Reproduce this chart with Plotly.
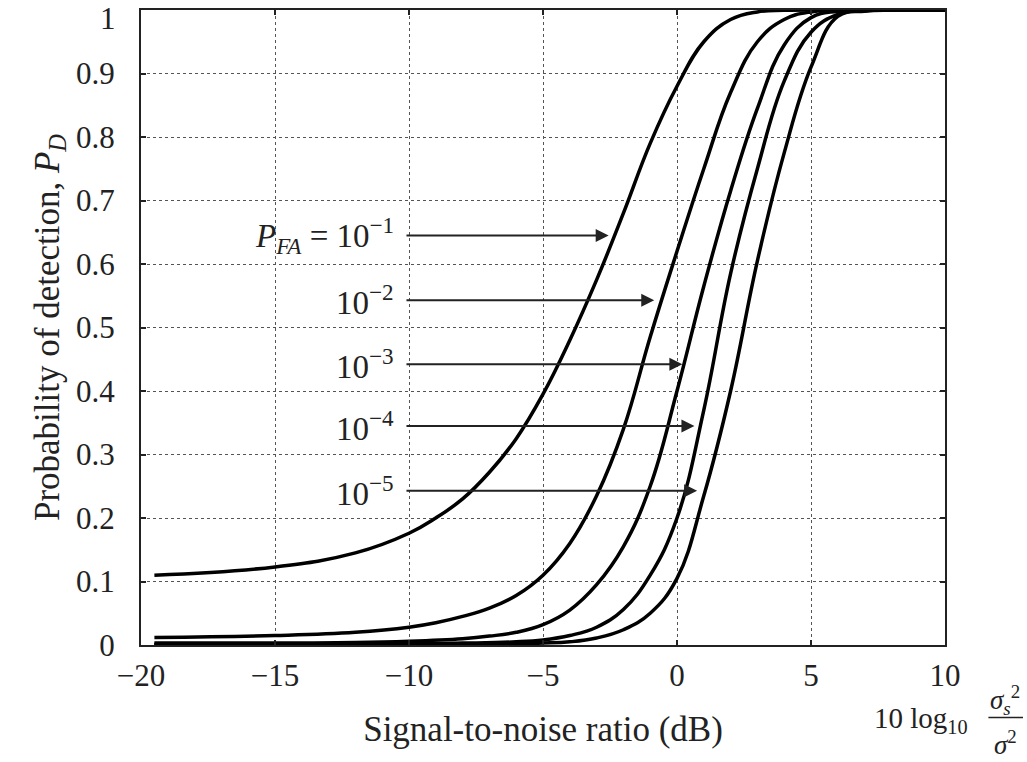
import plotly.graph_objects as go

# ---- data ----
pfa_labels = ["10<sup>−1</sup>", "10<sup>−2</sup>", "10<sup>−3</sup>", "10<sup>−4</sup>", "10<sup>−5</sup>"]

snr_1 = [-19.5, -15, -12, -10, -9, -8, -7, -6, -5, -4, -3, -2, -1, 0, 1, 2, 3, 4, 6, 10]
pd_1 = [0.110, 0.123, 0.145, 0.176, 0.200, 0.230, 0.272, 0.325, 0.395, 0.480, 0.575, 0.680, 0.790, 0.880, 0.950, 0.985, 0.997, 0.9995, 1.0, 1.0]

snr_2 = [-19.5, -15, -12, -10, -9, -8, -7, -6, -5, -4, -3, -2, -1, 0, 1, 2, 3, 4, 5, 7, 10]
pd_2 = [0.012, 0.015, 0.020, 0.028, 0.035, 0.045, 0.058, 0.078, 0.110, 0.160, 0.235, 0.340, 0.485, 0.620, 0.750, 0.870, 0.950, 0.985, 0.997, 1.0, 1.0]

snr_3 = [-19.5, -12, -10, -8, -7, -6, -5, -4, -3, -2, -1, 0, 1, 2, 3, 4, 5, 6, 8, 10]
pd_3 = [0.003, 0.004, 0.006, 0.010, 0.014, 0.020, 0.032, 0.055, 0.095, 0.155, 0.250, 0.400, 0.565, 0.715, 0.845, 0.945, 0.988, 0.998, 1.0, 1.0]

snr_4 = [-19.5, -10, -8, -6, -5, -4, -3, -2, -1, 0, 1, 2, 3, 4, 5, 6, 7, 10]
pd_4 = [0.001, 0.002, 0.003, 0.005, 0.008, 0.015, 0.028, 0.056, 0.110, 0.200, 0.370, 0.585, 0.750, 0.888, 0.965, 0.993, 0.999, 1.0]

snr_5 = [-19.5, -10, -6, -5, -4, -3, -2, -1, 0, 1, 2, 3, 4, 5, 6, 7, 8, 10]
pd_5 = [0.0005, 0.001, 0.002, 0.003, 0.005, 0.011, 0.024, 0.050, 0.105, 0.235, 0.400, 0.605, 0.775, 0.910, 0.990, 0.998, 1.0, 1.0]

arrow_y = [0.645, 0.543, 0.442, 0.345, 0.243]
arrow_start = [-10.15, -10.15, -10.15, -10.15, -10.15]
arrow_tip = [-2.55, -0.85, 0.2, 0.65, 0.75]

x_ticks = [-20, -15, -10, -5, 0, 5, 10]
x_ticktext = ["−20", "−15", "−10", "−5", "0", "5", "10"]
y_ticks = [0, 0.1, 0.2, 0.3, 0.4, 0.5, 0.6, 0.7, 0.8, 0.9, 1]
y_ticktext = ["0", "0.1", "0.2", "0.3", "0.4", "0.5", "0.6", "0.7", "0.8", "0.9", "1"]

FONT = "Liberation Serif"
INK = "#222"
fig = go.Figure()
for xs, ys in [(snr_1, pd_1), (snr_2, pd_2), (snr_3, pd_3), (snr_4, pd_4), (snr_5, pd_5)]:
    fig.add_trace(go.Scatter(x=xs, y=ys, mode="lines",
                             line=dict(color="black", width=3.5, shape="spline", smoothing=1.2),
                             showlegend=False, hoverinfo="skip"))

annotations = []
for i, (lab, yv, x0, x1) in enumerate(zip(pfa_labels, arrow_y, arrow_start, arrow_tip)):
    annotations.append(dict(x=x1, y=yv, ax=x0, ay=yv, xref="x", yref="y", axref="x", ayref="y",
                            text="", showarrow=True, arrowhead=2, arrowsize=1.3, arrowwidth=2,
                            arrowcolor=INK))
    txt = ("<i>P</i><sub><i>FA</i></sub> = " + lab) if i == 0 else lab
    annotations.append(dict(x=-10.5, y=yv, xref="x", yref="y", text=txt, showarrow=False,
                            xanchor="right", yanchor="middle", font=dict(family=FONT, size=33, color=INK)))

# top y tick label drawn slightly lower (as in the reference) so it is not cut at the edge
annotations.append(dict(x=-0.029, y=y_ticks[-1], xref="paper", yref="y", text=y_ticktext[-1],
                        showarrow=False, xanchor="right", yanchor="middle", yshift=-8,
                        font=dict(family=FONT, size=31, color=INK)))
y_ticktext_axis = y_ticktext[:-1] + [""]

# x-axis unit label: 10 log10 (sigma_s^2 / sigma^2)
annotations.append(dict(x=1.031, y=-0.118, xref="paper", yref="paper", text="10 log<sub>10</sub>",
                        showarrow=False, xanchor="right", yanchor="middle",
                        font=dict(family=FONT, size=29, color=INK)))
annotations.append(dict(x=1.075, y=-0.086, xref="paper", yref="paper", text="<i>σ</i><sub><i>s</i></sub><sup>2</sup>",
                        showarrow=False, xanchor="center", yanchor="middle",
                        font=dict(family=FONT, size=27, color=INK)))
annotations.append(dict(x=1.075, y=-0.155, xref="paper", yref="paper", text="<i>σ</i><sup>2</sup>",
                        showarrow=False, xanchor="center", yanchor="middle",
                        font=dict(family=FONT, size=27, color=INK)))

fig.add_shape(type="line", xref="paper", yref="paper", x0=1.054, x1=1.097, y0=-0.114, y1=-0.114,
              line=dict(color=INK, width=1.5))

fig.update_layout(
    width=1027, height=762,
    margin=dict(l=141, r=82, t=10, b=117),
    paper_bgcolor="white", plot_bgcolor="white",
    font=dict(family=FONT, color=INK),
    annotations=annotations,
    xaxis=dict(range=[-20, 10], tickvals=x_ticks, ticktext=x_ticktext, automargin=False,
               showgrid=True, gridcolor="#555", griddash="dot", gridwidth=1,
               zeroline=False, showline=True, linecolor=INK, linewidth=2, mirror="ticks",
               ticks="inside", ticklen=5, tickcolor=INK, tickwidth=1.5,
               tickfont=dict(family=FONT, size=31, color=INK), ticklabelstandoff=2,
               ticklabeloverflow="allow",
               title=dict(text="Signal-to-noise ratio (dB)", font=dict(family=FONT, size=35, color=INK),
                          standoff=24)),
    yaxis=dict(range=[0, 1], tickvals=y_ticks, ticktext=y_ticktext_axis, automargin=False,
               showgrid=True, gridcolor="#555", griddash="dot", gridwidth=1,
               zeroline=False, showline=True, linecolor=INK, linewidth=2, mirror="ticks",
               ticks="inside", ticklen=5, tickcolor=INK, tickwidth=1.5,
               tickfont=dict(family=FONT, size=31, color=INK), ticklabelstandoff=18,
               ticklabeloverflow="allow",
               title=dict(text="Probability of detection, <i>P</i><sub><i>D</i></sub>",
                          font=dict(family=FONT, size=35, color=INK), standoff=6)),
)

fig.write_html("out.html")
